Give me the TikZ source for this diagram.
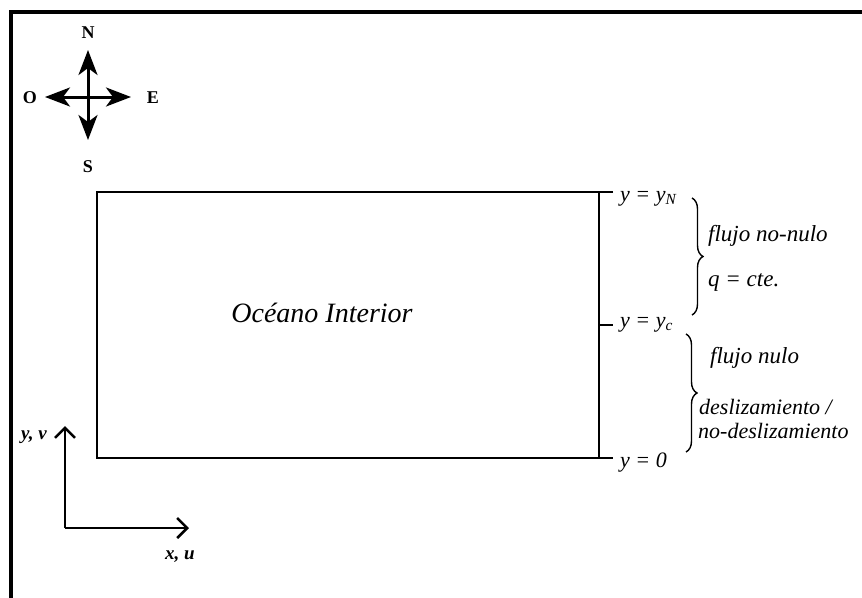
\documentclass[tikz,border=0pt]{standalone}
\usepackage{fontspec}
\setmainfont{Liberation Serif}
\usetikzlibrary{arrows.meta,decorations.pathreplacing}
\begin{document}
\begin{tikzpicture}[x=1pt,y=-1pt,
  frame/.style={line width=4pt},
  compass/.style={line width=3pt,{Stealth[length=25pt,width=19pt,inset=7pt]}-{Stealth[length=25pt,width=19pt,inset=7pt]}},
  axis/.style={line width=2.5pt,-{Straight Barb[length=10pt,width=20pt,line width=2.5pt]}},
  dir/.style={font=\bfseries\fontsize{18}{20}\selectfont,inner sep=0pt},
  ylab/.style={font=\itshape\fontsize{22}{24}\selectfont,anchor=west,inner sep=0pt},
  blab/.style={font=\itshape\fontsize{23}{25}\selectfont,anchor=west,inner sep=0pt},
  brc/.style={line width=1.4pt,decorate,decoration={brace,amplitude=11pt}},
  box/.style={line width=1.5pt}]
\useasboundingbox (0,0) rectangle (862,597);
% frame
\coordinate (fb) at (11,599);
\coordinate (ftl) at (11,12);
\coordinate (fr) at (864,12);
\draw[frame] (fb) -- (ftl) -- (fr);
% compass
\coordinate (cN) at (88,50);
\coordinate (cS) at (88,140);
\coordinate (cO) at (45,97);
\coordinate (cE) at (131,97);
\draw[compass] (cS) -- (cN);
\draw[compass] (cO) -- (cE);
\node[dir] (N) at (88,33) {N};
\node[dir] (S) at (88,167) {S};
\node[dir] (O) at (30,98) {O};
\node[dir] (E) at (153,98) {E};
% box
\coordinate (bl) at (97,192);
\coordinate (br) at (599,192);
\coordinate (blb) at (97,458);
\coordinate (brb) at (599,458);
\coordinate (tN) at (613,192);
\coordinate (t0) at (613,458);
\coordinate (yc) at (599,325);
\coordinate (tc) at (613,325);
\draw[box] (tN) -- (bl) -- (blb) -- (t0);
\draw[box] (br) -- (brb);
\draw[box] (yc) -- (tc);
\node[font=\itshape\fontsize{28}{32}\selectfont] (oi) at (322,313) {Océano Interior};
% labels
\node[ylab] (lN) at (620,199) {y = y\textsubscript{N}};
\node[ylab] (lc) at (620,325) {y = y\textsubscript{c}};
\node[ylab] (l0) at (620,463) {y = 0};
\coordinate (b1t) at (692,198);
\coordinate (b1b) at (692,315);
\draw[brc] (b1t) -- (b1b);
\coordinate (b2t) at (686,334);
\coordinate (b2b) at (686,452);
\draw[brc] (b2t) -- (b2b);
\node[blab] (f1) at (708,236) {flujo no-nulo};
\node[blab] (q) at (708,282) {q = cte.};
\node[blab] (f2) at (710,358) {flujo nulo};
\node[blab,font=\itshape\fontsize{22}{24}\selectfont] (d1) at (699,407) {deslizamiento /};
\node[blab,font=\itshape\fontsize{22}{24}\selectfont] (d2) at (698,431) {no-deslizamiento};
% axes
\coordinate (o) at (65,528);
\coordinate (ay) at (65,426);
\coordinate (ax) at (189,528);
\draw[axis] (o) -- (ay);
\draw[axis] (o) -- (ax);
\node[font=\bfseries\itshape\fontsize{19}{21}\selectfont] (yv) at (34,437) {y, v};
\node[font=\bfseries\itshape\fontsize{19}{21}\selectfont] (xu) at (180,557) {x, u};
\end{tikzpicture}
\end{document}
